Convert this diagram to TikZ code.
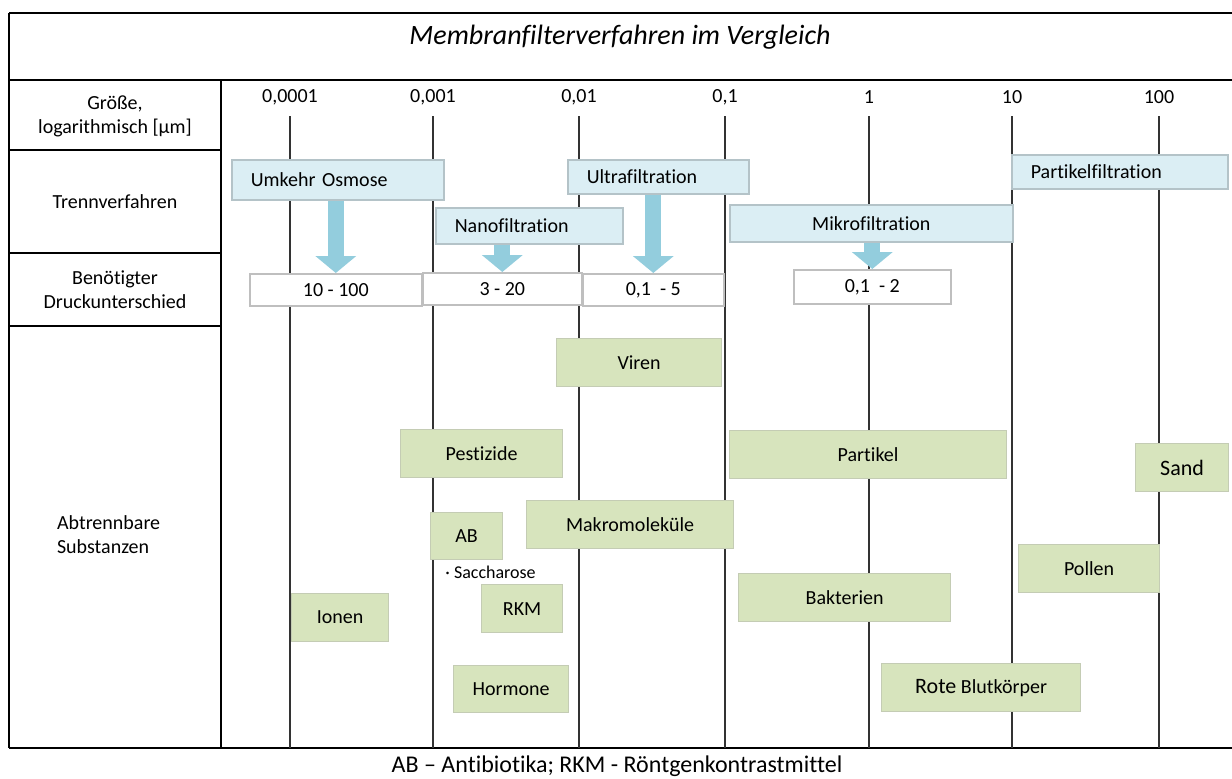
\documentclass[tikz,border=0pt]{standalone}
\usepackage{fontspec}
\setmainfont{Carlito}[Ligatures=CommonOff]
\usepackage{tikz}
\usetikzlibrary{arrows.meta}
\definecolor{procfill}{RGB}{219, 238, 244}
\definecolor{procline}{RGB}{180, 195, 200}
\definecolor{flowcolor}{RGB}{147, 205, 221}
\definecolor{substfill}{RGB}{215, 228, 189}
\definecolor{substline}{RGB}{196, 204, 180}
\definecolor{presline}{RGB}{191, 191, 191}
\definecolor{gridcolor}{RGB}{51, 51, 51}

\begin{document}
\begin{tikzpicture}[
    x=0.5pt, y=-0.5pt,
    frame/.style={line width=1.4pt, black},
    gridline/.style={line width=1pt, gridcolor},
    head/.style={align=center},
    procbox/.style={draw=procline, line width=0.8pt, fill=procfill, anchor=north west,
                    inner xsep=9.5pt, inner ysep=0pt, align=left},
    presbox/.style={draw=presline, line width=0.8pt, fill=white, anchor=north west,
                    inner sep=0pt, minimum height=16pt},
    subst/.style={draw=substline, line width=0.6pt, fill=substfill, anchor=north west,
                  inner sep=0pt, minimum height=24pt},
    flow/.style={-{Triangle[width=20pt, length=8.5pt]}, line width=8pt, flowcolor}
]
\useasboundingbox (0,0) rectangle (1232,778);
% Frame
\draw[frame] (9,13) -- (1232,13);
\draw[frame] (9,80) -- (1232,80);
\draw[frame] (9,748) -- (1232,748);
\draw[frame] (9,13) -- (9,748);
\draw[frame] (221,80) -- (221,748);
\foreach \yy in {150,253,326}
    \draw[frame] (9,\yy) -- (221,\yy);
% Title and note
\node[font=\fontsize{14}{17}\selectfont\itshape] (title) at (620,37) {Membranfilterverfahren im Vergleich};
\node[font=\fontsize{12}{14}\selectfont] (note) at (617,766) {AB – Antibiotika; RKM - Röntgenkontrastmittel};
% Row heads
\node[head] (h1) at (115,116) {Größe,\\logarithmisch [µm]};
\node[head] (h2) at (115,202) {Trennverfahren};
\node[head] (h3) at (115,290) {Benötigter\\Druckunterschied};
\node[anchor=west, align=left] (h4) at (50,535) {Abtrennbare\\Substanzen};
% Size scale
\foreach \xx/\lab [count=\i] in {290/{0,0001}, 433/{0,001}, 579/{0,01}, 725/{0,1}, 869/1, 1012/10, 1159/100} {
    \node (t\i) at (\xx,97) {\lab};
    \draw[gridline] (\xx,116) -- (\xx,748);
}
% Separation processes
\node[procbox, text width=87pt, minimum height=20pt] (ro) at (231,159) {Umkehr Osmose};
\node[procbox, text width=74.5pt, minimum height=18pt] (nf) at (435,207) {Nanofiltration};
\node[procbox, text width=71.5pt, minimum height=17pt] (uf) at (567,159) {Ultrafiltration};
\node[procbox, text width=122.5pt, align=center, minimum height=18.5pt] (mf) at (729,204) {Mikrofiltration};
\node[procbox, text width=89pt, minimum height=17pt] (pf) at (1011,154) {Partikelfiltration};
% Pressure
\node[presbox, minimum width=86pt] (p1) at (249,273) {10 - 100};
\node[presbox, minimum width=79.5pt] (p2) at (422,272) {3 - 20};
\node[presbox, minimum width=70.5pt] (p3) at (582,273) {0,1 ~- 5};
\node[presbox, minimum width=78.5pt, minimum height=17pt] (p4) at (793,269) {0,1 ~- 2};
% Arrows
\draw[flow] (ro.south -| p1.north) -- (p1.north);
\draw[flow] (nf.south -| p2.north) -- (p2.north);
\draw[flow] (uf.south -| p3.north) -- (p3.north);
\draw[flow] (mf.south -| p4.north) -- (p4.north);
% Substances
\node[subst, minimum width=82.5pt] (viren) at (556,338) {Viren};
\node[subst, minimum width=81pt] (pest) at (400,429) {Pestizide};
\node[subst, minimum width=138.5pt] (part) at (729,430) {Partikel};
\node[subst, minimum width=46.5pt, font=\fontsize{11}{13}\selectfont] (sand) at (1135,443) {Sand};
\node[subst, minimum width=103.5pt] (makro) at (526,500) {Makromoleküle};
\node[subst, minimum width=36pt, minimum height=23.5pt] (ab) at (430,512) {AB};
\node[anchor=west, font=\small, inner sep=0pt] (sacch) at (445,572) {· Saccharose};
\node[subst, minimum width=40.5pt] (rkm) at (481,584) {RKM};
\node[subst, minimum width=48.5pt] (ionen) at (291,593) {Ionen};
\node[subst, minimum width=57.5pt, minimum height=23.5pt] (horm) at (453,665) {Hormone};
\node[subst, minimum width=70.5pt] (pollen) at (1018,544) {Pollen};
\node[subst, minimum width=106pt] (bakt) at (738,573) {Bakterien};
\node[subst, minimum width=99.5pt] (blut) at (881,663) {{\fontsize{11}{13}\selectfont Rote} Blutkörper};
\end{tikzpicture}
\end{document}
